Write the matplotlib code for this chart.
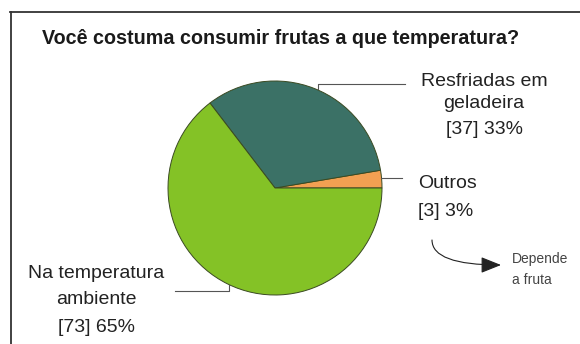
import matplotlib.pyplot as plt
from matplotlib.patches import FancyArrowPatch

plt.rcParams['font.family'] = ['Liberation Sans', 'DejaVu Sans']

TITLE = 'Você costuma consumir frutas a que temperatura?'
labels = [['Outros'], ['Resfriadas em', 'geladeira'], ['Na temperatura', 'ambiente']]
counts = [3, 37, 73]
colors = ['#f2a052', '#3b7166', '#84c226']

W, H = 580, 344
total = sum(counts)
pcts = [round(100 * c / total) for c in counts]

fig = plt.figure(figsize=(W / 100, H / 100), dpi=100)
ax = fig.add_axes([0, 0, 1, 1])

# pie in pixel units, y measured from the bottom
cx, cy, r = 275, H - 188, 107
ax.pie(counts, colors=colors, startangle=0, counterclock=True,
       center=(cx, cy), radius=r, frame=True,
       wedgeprops=dict(edgecolor='#3a4a22', linewidth=0.7))
ax.set_xlim(0, W)
ax.set_ylim(0, H)
ax.set_aspect('auto')
ax.axis('off')

# frame around the chart (only top and left edges fall inside)
ax.plot([10, W], [H - 12, H - 12], color='#333333', lw=1.3)
ax.plot([10.5, 10.5], [H - 12, 0], color='#333333', lw=1.3)

ax.text(281, H - 38, TITLE, ha='center', va='center',
        fontsize=14.2, fontweight='bold', color='#1a1a1a')

# leader lines
lc = '#555555'
ax.plot([318, 318, 405], [H - 89, H - 84, H - 84], color=lc, lw=0.8)
ax.plot([381, 402], [H - 178, H - 178], color=lc, lw=0.8)
ax.plot([229, 229, 175], [H - 285, H - 291, H - 291], color=lc, lw=0.8)


def put(x, ys, lines, ha):
    for y, s in zip(ys, lines):
        ax.text(x, H - y, s, ha=ha, va='center', fontsize=14, color='#222222')


put(484, [82, 104, 130], labels[1] + [f'[{counts[1]}] {pcts[1]}%'], 'center')
put(418, [184, 212], labels[0] + [f'[{counts[0]}] {pcts[0]}%'], 'left')
put(96, [273, 300, 327], labels[2] + [f'[{counts[2]}] {pcts[2]}%'], 'center')

# note with curved arrow
ax.add_patch(FancyArrowPatch((432, H - 240), (501, H - 265),
                             connectionstyle='angle3,angleA=90,angleB=0',
                             arrowstyle='-|>,head_length=0.5,head_width=0.2',
                             mutation_scale=25, shrinkA=0, shrinkB=0,
                             color='#222222', lw=0.8))
ax.text(512, H - 259, 'Depende', ha='left', va='center', fontsize=10, color='#444444')
ax.text(512, H - 280, 'a fruta', ha='left', va='center', fontsize=10, color='#444444')

fig.savefig('out.png', dpi=100, facecolor='white')
